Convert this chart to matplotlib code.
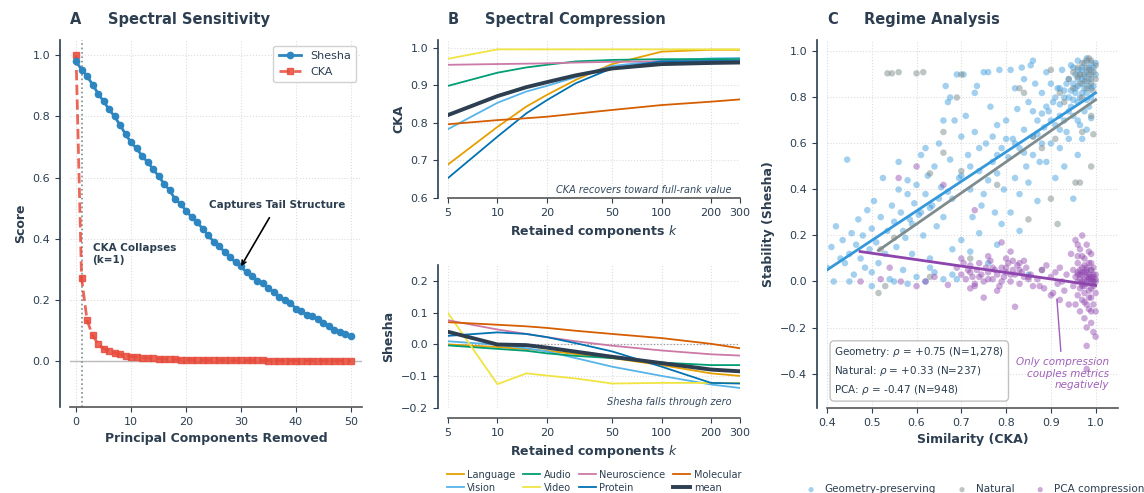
import numpy as np
import matplotlib
matplotlib.use('Agg')
import matplotlib.pyplot as plt

###############################################################################

# panel A: spectral sensitivity
pcs_removed = list(range(51))
shesha_removal = [
    0.980, 0.953, 0.932, 0.904, 0.875, 0.850, 0.823, 0.800, 0.772, 0.742,
    0.715, 0.696, 0.671, 0.651, 0.628, 0.605, 0.580, 0.559, 0.530, 0.514,
    0.492, 0.471, 0.455, 0.433, 0.412, 0.391, 0.377, 0.357, 0.340, 0.323,
    0.310, 0.290, 0.279, 0.263, 0.255, 0.238, 0.226, 0.210, 0.201, 0.190,
    0.171, 0.163, 0.151, 0.149, 0.138, 0.125, 0.116, 0.103, 0.095, 0.089,
    0.082,
]
cka_removal = [
    1.000, 0.272, 0.134, 0.084, 0.057, 0.041, 0.033, 0.027, 0.022, 0.018,
    0.015, 0.013, 0.011, 0.010, 0.009, 0.008, 0.007, 0.006, 0.006, 0.005,
    0.005, 0.004, 0.004, 0.004, 0.003, 0.003, 0.003, 0.003, 0.002, 0.002,
    0.002, 0.002, 0.002, 0.002, 0.002, 0.001, 0.001, 0.001, 0.001, 0.001,
    0.001, 0.001, 0.001, 0.001, 0.001, 0.001, 0.001, 0.001, 0.001, 0.001,
    0.001,
]

# panel B: spectral compression
k_retained = [5, 10, 15, 20, 30, 50, 100, 200, 300]
domains = ['Language', 'Vision', 'Audio', 'Video', 'Neuroscience', 'Protein',
           'Molecular']
cka_compress = {
    'Language': [0.689, 0.789, 0.843, 0.874, 0.914, 0.956, 0.989, 0.994, 0.994],
    'Vision': [0.783, 0.853, 0.883, 0.898, 0.921, 0.951, 0.965, 0.971, 0.972],
    'Audio': [0.898, 0.933, 0.947, 0.954, 0.963, 0.967, 0.969, 0.969, 0.969],
    'Video': [0.970, 0.995, 0.995, 0.995, 0.995, 0.995, 0.995, 0.995, 0.995],
    'Neuroscience': [0.954, 0.956, 0.957, 0.958, 0.960, 0.962, 0.963, 0.964,
                     0.965],
    'Protein': [0.653, 0.763, 0.825, 0.860, 0.905, 0.945, 0.963, 0.964, 0.964],
    'Molecular': [0.796, 0.807, 0.812, 0.816, 0.824, 0.834, 0.847, 0.856,
                  0.862],
}
shesha_compress = {
    'Language': [0.000, -0.008, -0.015, -0.020, -0.030, -0.043, -0.065, -0.091,
                 -0.099],
    'Vision': [0.010, -0.001, -0.012, -0.022, -0.043, -0.070, -0.099, -0.126,
               -0.137],
    'Audio': [-0.003, -0.014, -0.020, -0.028, -0.036, -0.043, -0.057, -0.065,
              -0.065],
    'Video': [0.099, -0.125, -0.091, -0.098, -0.107, -0.123, -0.121, -0.121,
              -0.121],
    'Neuroscience': [0.076, 0.047, 0.033, 0.023, 0.010, -0.004, -0.019, -0.031,
                     -0.035],
    'Protein': [0.027, 0.038, 0.033, 0.023, 0.004, -0.022, -0.070, -0.121,
                -0.123],
    'Molecular': [0.070, 0.062, 0.057, 0.052, 0.043, 0.033, 0.020, 0.002,
                  -0.012],
}
domain_colors = {
    'Language': '#E69F00', 'Vision': '#56B4E9', 'Audio': '#009E73',
    'Video': '#F0E442', 'Neuroscience': '#CC79A7', 'Protein': '#0072B2',
    'Molecular': '#D55E00',
}
k_ticks = [5, 10, 20, 50, 100, 200, 300]

# panel C: regime analysis
geo_cka = [
    0.40, 0.41, 0.415, 0.42, 0.43, 0.435, 0.44, 0.445, 0.45, 0.455, 0.46,
    0.465, 0.47, 0.475, 0.48, 0.485, 0.49, 0.495, 0.50, 0.50,
    0.505, 0.51, 0.515, 0.52, 0.525, 0.53, 0.535, 0.54, 0.545, 0.55, 0.555,
    0.56, 0.565, 0.57, 0.575, 0.58, 0.585, 0.59, 0.595, 0.60, 0.56, 0.58,
    0.60, 0.605, 0.61, 0.615, 0.62, 0.625, 0.63, 0.635, 0.64, 0.645, 0.65,
    0.655, 0.66, 0.665, 0.67, 0.675, 0.68, 0.685, 0.69, 0.695, 0.70, 0.70,
    0.66, 0.62, 0.64, 0.68, 0.675, 0.69,
    0.705, 0.71, 0.715, 0.72, 0.725, 0.73, 0.735, 0.74, 0.745, 0.75, 0.755,
    0.76, 0.765, 0.77, 0.775, 0.78, 0.785, 0.79, 0.795, 0.80, 0.72, 0.74,
    0.76, 0.78, 0.73, 0.75, 0.77, 0.79, 0.76, 0.78,
    0.805, 0.81, 0.815, 0.82, 0.825, 0.83, 0.835, 0.84, 0.845, 0.85, 0.855,
    0.86, 0.865, 0.87, 0.875, 0.88, 0.885, 0.89, 0.895, 0.90, 0.81, 0.83,
    0.85, 0.87, 0.89, 0.82, 0.84, 0.86, 0.88, 0.90, 0.83, 0.86,
    0.905, 0.91, 0.915, 0.92, 0.925, 0.93, 0.935, 0.94, 0.945, 0.95, 0.955,
    0.96, 0.965, 0.97, 0.975, 0.98, 0.985, 0.99, 0.995, 1.0, 0.92, 0.94,
    0.96, 0.98, 0.93, 0.95, 0.97, 0.99, 0.96, 0.98, 0.97, 0.99, 0.95, 0.94,
    0.96, 0.98, 0.975, 0.965, 0.985, 0.955, 0.945, 0.935, 0.99, 1.0, 0.97,
    0.91, 0.95, 0.93, 0.92, 0.96,
    0.55, 0.58, 0.62, 0.66, 0.68, 0.85, 0.63, 0.50, 0.45,
    0.975, 0.965, 0.985, 0.955, 0.99, 0.97, 0.98, 0.96, 0.995, 0.95,
    0.945, 0.97, 0.98, 0.99, 0.96, 0.975, 0.985, 0.94, 0.93, 0.92,
    0.87, 0.89, 0.91, 0.88, 0.90, 0.92, 0.86, 0.84, 0.82, 0.80,
    0.78, 0.74, 0.72, 0.70, 0.67, 0.65, 0.63, 0.61, 0.59, 0.57,
]
geo_shesha = [
    0.06, 0.15, 0.00, 0.24, 0.10, 0.18, 0.08, 0.53, 0.12, 0.21, 0.03,
    0.16, 0.27, 0.10, 0.20, 0.06, 0.31, 0.14, 0.23, 0.04,
    0.35, 0.17, 0.08, 0.28, 0.45, 0.12, 0.22, 0.01, 0.33, 0.26, 0.15,
    0.40, 0.30, 0.05, 0.19, 0.38, 0.27, 0.12, 0.34, 0.02, 0.52, 0.44,
    0.42, 0.29, 0.55, 0.20, 0.38, 0.46, 0.10, 0.33, 0.50, 0.24, 0.60,
    0.41, 0.28, 0.85, 0.78, 0.53, 0.36, 0.70, 0.90, 0.45, 0.63, 0.18,
    0.70, 0.58, 0.04, 0.14, 0.80, 0.01,
    0.90, 0.72, 0.55, 0.40, 0.28, 0.65, 0.85, 0.48, 0.33, 0.91, 0.60,
    0.44, 0.76, 0.52, 0.30, 0.68, 0.92, 0.58, 0.40, 0.70, 0.13, 0.21,
    0.08, 0.16, 0.82, 0.38, 0.63, 0.25, 0.91, 0.47,
    0.54, 0.92, 0.62, 0.45, 0.75, 0.58, 0.93, 0.66, 0.50, 0.78, 0.94,
    0.63, 0.86, 0.70, 0.52, 0.82, 0.67, 0.91, 0.74, 0.60, 0.30, 0.38,
    0.43, 0.35, 0.52, 0.84, 0.88, 0.55, 0.73, 0.86, 0.22, 0.96,
    0.78, 0.68, 0.84, 0.72, 0.92, 0.80, 0.65, 0.88, 0.76, 0.93, 0.84,
    0.70, 0.90, 0.82, 0.95, 0.87, 0.76, 0.92, 0.85, 0.95, 0.58, 0.62,
    0.55, 0.66, 0.50, 0.72, 0.62, 0.80, 0.96, 0.97, 0.88, 0.88, 0.86, 0.80,
    0.78, 0.82, 0.74, 0.68, 0.93, 0.90, 0.94, 0.86, 0.71, 0.90, 0.93,
    0.45, 0.36, 0.70, 0.84, 0.85,
    0.00, -0.01, 0.00, 0.01, 0.03, 0.03, 0.06, -0.02, 0.00,
    0.84, 0.80, 0.90, 0.82, 0.95, 0.86, 0.91, 0.88, 0.93, 0.79,
    0.83, 0.92, 0.79, 0.84, 0.92, 0.89, 0.85, 0.74, 0.83, 0.77,
    0.64, 0.76, 0.80, 0.60, 0.70, 0.66, 0.74, 0.56, 0.60, 0.62,
    0.55, 0.58, 0.50, 0.46, 0.39, 0.36, 0.32, 0.30, 0.25, 0.22,
]
nat_cka = [
    0.515, 0.53, 0.535, 0.545, 0.56, 0.60, 0.615, 0.63, 0.52, 0.55, 0.63,
    0.66, 0.70, 0.78, 0.83, 0.84, 0.86, 0.88, 0.90, 0.915, 0.90, 0.92, 0.94,
    0.95, 0.96, 0.965, 0.97, 0.975, 0.98, 0.985, 0.99, 0.995, 1.0, 0.97,
    0.98, 0.99, 0.96, 0.95, 0.985, 0.993, 0.97, 0.99, 0.995, 0.99, 0.965,
    0.955, 0.93, 0.91, 0.85, 0.88, 0.99, 0.995, 0.66, 0.70, 0.69, 0.72,
    0.975, 0.985, 0.99, 0.98, 0.965, 1.0,
]
nat_shesha = [
    -0.05, -0.02, 0.905, 0.905, 0.91, 0.905, 0.91, 0.02, 0.14, 0.19, 0.47,
    0.56, 0.48, 0.42, 0.84, 0.82, 0.63, 0.58, 0.36, 0.25, 0.92, 0.82, 0.88,
    0.91, 0.93, 0.86, 0.95, 0.90, 0.93, 0.88, 0.96, 0.91, 0.94, 0.80,
    0.84, 0.86, 0.89, 0.84, 0.97, 0.83, 0.65, 0.72, 0.64, 0.50, 0.43,
    0.43, 0.78, 0.62, 0.27, 0.05, 0.05, 0.00, 0.65, 0.90, 0.80, 0.10,
    0.87, 0.92, 0.90, 0.96, 0.90, 0.88,
]
pca_cka = [
    0.475, 0.52, 0.54, 0.565, 0.60, 0.62, 0.64, 0.67, 0.56, 0.60, 0.66,
    0.73, 0.79, 0.81,
    0.69, 0.70, 0.705, 0.71, 0.715, 0.72, 0.725, 0.73, 0.735, 0.74, 0.745,
    0.75, 0.755, 0.76, 0.765, 0.77, 0.775, 0.78, 0.785, 0.79, 0.795, 0.80,
    0.805, 0.81, 0.815, 0.82, 0.825, 0.83, 0.835, 0.84, 0.845, 0.85, 0.855,
    0.86, 0.82, 0.75, 0.78, 0.72, 0.70, 0.76, 0.80, 0.84, 0.815, 0.83,
    0.87, 0.88, 0.885, 0.89, 0.90, 0.905, 0.91, 0.915, 0.92, 0.925, 0.93,
    0.935, 0.92, 0.90, 0.875, 0.94,
    0.945, 0.95, 0.95, 0.955, 0.955, 0.96, 0.96, 0.96, 0.965, 0.965, 0.965,
    0.97, 0.97, 0.97, 0.97, 0.975, 0.975, 0.975, 0.975, 0.98, 0.98, 0.98,
    0.98, 0.98, 0.985, 0.985, 0.985, 0.985, 0.99, 0.99, 0.99, 0.99, 0.99,
    0.995, 0.995, 0.995, 0.995, 1.0, 1.0, 1.0, 1.0, 0.98, 0.97, 0.96, 0.975,
    0.965, 0.985, 0.99, 0.97, 0.98, 0.965, 0.995, 0.955, 0.96, 0.975, 0.985,
    0.99, 0.98,
    0.97, 0.975, 0.98, 0.985, 0.99, 0.995, 1.0, 0.965, 0.96, 0.97, 0.98,
    0.99, 0.995, 0.975, 0.985, 1.0, 0.97, 0.98, 0.99, 0.96,
    0.72, 0.74, 0.77, 0.79, 0.81, 0.83, 0.85, 0.73, 0.76, 0.80,
]
pca_shesha = [
    0.00, 0.01, 0.06, 0.00, -0.02, 0.00, 0.02, -0.015, 0.45, 0.50, 0.42,
    0.31, 0.17, 0.13,
    0.06, 0.03, 0.08, 0.01, 0.05, 0.07, 0.02, -0.01, 0.05, 0.08, 0.03,
    0.00, 0.06, 0.04, 0.09, 0.01, 0.05, 0.03, -0.02, 0.06, 0.02, 0.04,
    0.08, 0.00, 0.05, 0.03, 0.07, -0.01, 0.04, 0.02, 0.06, 0.01, 0.03,
    -0.02, -0.11, -0.07, -0.04, -0.03, 0.10, 0.11, 0.10, 0.09, 0.09, 0.08,
    0.01, 0.05, -0.03, 0.07, 0.02, -0.05, 0.04, -0.01, 0.06, 0.00, -0.04,
    0.03, -0.08, -0.06, -0.02, -0.10,
    0.12, 0.05, -0.02, 0.18, -0.10, 0.08, 0.00, -0.06, 0.14, 0.03, -0.13,
    0.20, 0.06, -0.02, -0.08, 0.10, 0.01, -0.05, -0.16, 0.16, 0.04, -0.01,
    -0.10, -0.20, 0.08, 0.02, -0.04, -0.12, 0.12, 0.05, 0.00, -0.07, -0.18,
    0.03, -0.02, -0.10, -0.22, 0.01, -0.05, -0.13, -0.24, -0.28, 0.11, 0.16,
    0.07, -0.03, 0.13, -0.03, 0.00, 0.02, 0.05, 0.06, 0.02, 0.11, -0.09,
    -0.07, -0.13, -0.38,
    0.03, 0.04, 0.00, 0.01, 0.02, 0.00, 0.03, 0.01, 0.04, -0.01, 0.05,
    0.01, 0.02, -0.02, 0.03, 0.00, 0.04, 0.06, 0.08, 0.03,
    0.04, 0.02, 0.06, 0.00, 0.03, 0.05, 0.02, -0.02, 0.01, 0.06,
]

# fitted trend lines (slope, intercept, cka range)
geo_fit = (1.283, -0.463, 0.40, 1.00)
nat_fit = (1.350, -0.560, 0.515, 1.00)
pca_fit = (-0.280, 0.263, 0.474, 1.00)

###############################################################################

TEXT = '#2c3e50'
plt.rcParams.update({
    'font.family': 'DejaVu Sans',
    'text.color': TEXT,
    'axes.labelcolor': TEXT,
    'xtick.color': TEXT,
    'ytick.color': TEXT,
    'axes.edgecolor': TEXT,
    'xtick.labelsize': 8,
    'ytick.labelsize': 8,
    'axes.labelsize': 9,
    'axes.labelweight': 'bold',
})


def style_axes(ax, bottom_offset=0):
    ax.spines['top'].set_visible(False)
    ax.spines['right'].set_visible(False)
    ax.spines['left'].set_position(('outward', 7.2))
    ax.spines['bottom'].set_position(('outward', bottom_offset))
    ax.spines['left'].set_linewidth(1.2)
    ax.spines['bottom'].set_linewidth(1.2)
    ax.spines['bottom'].set_color('#555555')
    ax.grid(True, ls=':', lw=0.8, color='#dddddd')
    ax.set_axisbelow(True)


def panel_title(ax, letter, title):
    ax.annotate(letter, xy=(0, 1), xycoords='axes fraction', xytext=(0, 11.5),
                textcoords='offset points', fontsize=10.5, fontweight='bold',
                va='baseline', ha='left')
    ax.annotate(title, xy=(0, 1), xycoords='axes fraction',
                xytext=(27, 11.5), textcoords='offset points', fontsize=10.5,
                fontweight='bold', va='baseline', ha='left')


fig = plt.figure(figsize=(11.44, 4.93), dpi=100)

ax_a = fig.add_axes([0.0612, 0.1745, 0.2552, 0.7444])
ax_b1 = fig.add_axes([0.3916, 0.5984, 0.2552, 0.3205])
ax_b2 = fig.add_axes([0.3916, 0.1724, 0.2552, 0.2901])
ax_c = fig.add_axes([0.7229, 0.1724, 0.2544, 0.7465])

# ---- panel A
style_axes(ax_a)
ax_a.axhline(0, color='#bbbbbb', lw=1, zorder=1)
ax_a.axvline(1, color='#7f8c8d', ls=':', lw=1.2, zorder=1)
ax_a.plot(pcs_removed, shesha_removal, color='#2e86c1', lw=2, marker='o',
          ms=4.5, label='Shesha', zorder=3)
ax_a.plot(pcs_removed, cka_removal, color='#e74c3c', lw=2, ls='--',
          marker='s', ms=4.3, alpha=0.85, label='CKA', zorder=2)
ax_a.set_xlim(-1.1, 52)
ax_a.set_ylim(-0.15, 1.05)
ax_a.set_xticks([0, 10, 20, 30, 40, 50])
ax_a.set_yticks([0.0, 0.2, 0.4, 0.6, 0.8, 1.0])
ax_a.set_xlabel('Principal Components Removed')
ax_a.set_ylabel('Score')
ax_a.text(3, 0.35, 'CKA Collapses\n(k=1)', fontsize=7.5, fontweight='bold',
          va='center', ha='left')
ax_a.annotate('Captures Tail Structure', xy=(30, 0.31), xytext=(36.5, 0.51),
              fontsize=7.5, fontweight='bold', ha='center', va='center',
              arrowprops=dict(arrowstyle='->', color='black', lw=1.2,
                              shrinkA=4, shrinkB=0))
ax_a.legend(loc='upper right', fontsize=8, framealpha=0.9,
            edgecolor='#cccccc', borderpad=0.5)
panel_title(ax_a, 'A', 'Spectral Sensitivity')

# ---- panel B
for ax, data in ((ax_b1, cka_compress), (ax_b2, shesha_compress)):
    for name in domains:
        ax.plot(k_retained, data[name], color=domain_colors[name], lw=1.3,
                label=name)
    mean_vals = np.mean([data[name] for name in domains], axis=0)
    ax.plot(k_retained, mean_vals, color='#2c3e50', lw=2.8, label='mean')
    ax.set_xscale('log')
    ax.set_xlim(5, 300)
    ax.set_xticks(k_ticks)
    ax.set_xticklabels([str(k) for k in k_ticks])
    ax.minorticks_off()
    ax.set_xlabel('Retained components $k$')

style_axes(ax_b1)
ax_b1.set_ylim(0.6, 1.02)
ax_b1.set_yticks([0.6, 0.7, 0.8, 0.9, 1.0])
ax_b1.set_ylabel('CKA')
ax_b1.text(0.97, 0.02, 'CKA recovers toward full-rank value',
           transform=ax_b1.transAxes, fontsize=7, style='italic', ha='right',
           va='bottom', color='#34495e')
panel_title(ax_b1, 'B', 'Spectral Compression')

style_axes(ax_b2, bottom_offset=7.2)
ax_b2.axhline(0, color='#999999', ls=':', lw=0.9, zorder=1)
ax_b2.set_ylim(-0.2, 0.25)
ax_b2.set_yticks([-0.2, -0.1, 0.0, 0.1, 0.2])
ax_b2.set_ylabel('Shesha')
ax_b2.text(0.97, 0.01, 'Shesha falls through zero',
           transform=ax_b2.transAxes, fontsize=7, style='italic', ha='right',
           va='bottom', color='#34495e')
ax_b2.legend(loc='upper center', bbox_to_anchor=(594 / 1144, 1 - 461 / 493),
             bbox_transform=fig.transFigure, ncol=4, fontsize=7,
             frameon=False, handlelength=1.75, columnspacing=0.8,
             handletextpad=0.35, labelspacing=0.3)

# ---- panel C
style_axes(ax_c)
ax_c.scatter(geo_cka, geo_shesha, s=22, color='#3498db', alpha=0.45,
             edgecolors='none', label='Geometry-preserving', zorder=2)
ax_c.scatter(nat_cka, nat_shesha, s=22, color='#7f8c8d', alpha=0.5,
             edgecolors='none', label='Natural', zorder=2)
ax_c.scatter(pca_cka, pca_shesha, s=22, color='#8e44ad', alpha=0.45,
             edgecolors='none', label='PCA compression', zorder=2)
for fit, col in ((geo_fit, '#3498db'), (nat_fit, '#7f8c8d'),
                 (pca_fit, '#8e44ad')):
    xs = np.array([fit[2], fit[3]])
    ax_c.plot(xs, fit[0] * xs + fit[1], color=col, lw=2, zorder=3)
ax_c.set_xlim(0.4, 1.05)
ax_c.set_ylim(-0.55, 1.05)
ax_c.set_xticks([0.4, 0.5, 0.6, 0.7, 0.8, 0.9, 1.0])
ax_c.set_yticks([-0.4, -0.2, 0.0, 0.2, 0.4, 0.6, 0.8, 1.0])
ax_c.set_xlabel('Similarity (CKA)')
ax_c.set_ylabel('Stability (Shesha)')
ax_c.text(0.025, 0.03,
          'Geometry: $\\rho$ = +0.75 (N=1,278)\n'
          'Natural: $\\rho$ = +0.33 (N=237)\n'
          'PCA: $\\rho$ = -0.47 (N=948)',
          transform=ax_c.transAxes, fontsize=7.5, va='bottom', ha='left',
          linespacing=1.5,
          bbox=dict(boxstyle='round,pad=0.4', fc='white', ec='#bbbbbb',
                    alpha=0.9))
ax_c.annotate('Only compression\ncouples metrics\nnegatively',
              xy=(0.913, -0.065), xytext=(1.03, -0.40), fontsize=7.5,
              style='italic', color='#8e44ad', alpha=0.85, ha='right',
              va='center',
              arrowprops=dict(arrowstyle='-', color='#8e44ad', lw=1,
                              alpha=0.85))
ax_c.legend(loc='upper center', bbox_to_anchor=(975 / 1144, 1 - 475 / 493),
            bbox_transform=fig.transFigure, ncol=3, fontsize=7.5,
            frameon=False, markerscale=0.8, handlelength=1.0,
            columnspacing=2.0)
panel_title(ax_c, 'C', 'Regime Analysis')

fig.savefig('out.png', dpi=100)
